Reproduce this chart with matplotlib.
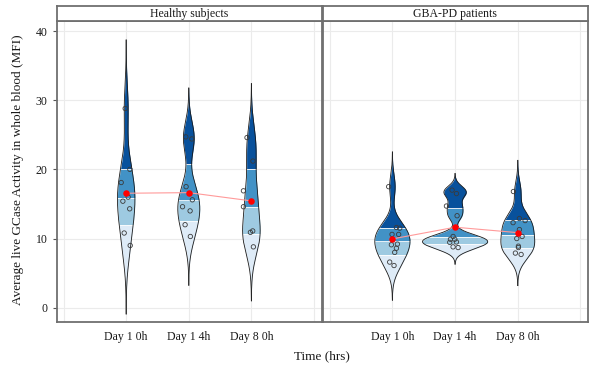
import numpy as np
import matplotlib
matplotlib.use("Agg")
import matplotlib.pyplot as plt

plt.rcParams['font.family'] = ['Liberation Serif', 'DejaVu Serif']

groups = ['Healthy subjects', 'GBA-PD patients']
times = ['Day 1 0h', 'Day 1 4h', 'Day 8 0h']

# GCase activity (MFI) per subject
healthy_d1_0h = [28.8, 20.0, 18.1, 16.0, 15.4, 14.3, 10.8, 9.0]
healthy_d1_4h = [24.7, 24.4, 17.5, 15.6, 14.6, 14.0, 12.0, 10.3]
healthy_d8_0h = [24.6, 21.2, 16.9, 14.6, 11.1, 10.9, 8.8]
gba_d1_0h = [17.5, 11.6, 11.5, 10.6, 10.6, 9.2, 9.1, 8.6, 8.0, 6.6, 6.1]
gba_d1_4h = [17.0, 16.5, 14.7, 13.3, 10.3, 9.9, 9.9, 9.5, 9.45, 8.8, 8.7]
gba_d8_0h = [16.8, 12.9, 12.6, 12.3, 11.3, 10.3, 10.0, 8.9, 8.7, 7.9, 7.7]

# horizontal jitter of the points (category units)
healthy_jit = [[-0.016, 0.059, -0.08, 0.032, -0.053, 0.056, -0.032, 0.064],
               [-0.048, 0.048, -0.043, 0.057, -0.10, 0.021, -0.059, 0.025],
               [-0.07, 0.025, -0.127, -0.127, 0.021, -0.016, 0.032]]
gba_jit = [[-0.059, 0.064, 0.117, -0.006, 0.10, 0.08, -0.016, 0.064, 0.037, -0.043, 0.026],
           [-0.048, 0.022, -0.138, 0.032, -0.032, -0.074, -0.005, 0.022, -0.085, -0.032, 0.048],
           [-0.07, 0.026, 0.117, -0.075, 0.026, 0.069, -0.016, 0.01, 0.01, -0.038, 0.053]]

# kernel bandwidths of the violins
healthy_bw = [3.3, 2.35, 2.6]
gba_bw = [1.67, 0.8, 1.5]

band_colors = ['#deebf7', '#9ecae1', '#4292c6', '#08519c']

panels = [
    ([healthy_d1_0h, healthy_d1_4h, healthy_d8_0h], healthy_jit, healthy_bw),
    ([gba_d1_0h, gba_d1_4h, gba_d8_0h], gba_jit, gba_bw),
]


def kde(vals, bw):
    v = np.asarray(vals, dtype=float)
    y = np.linspace(v.min() - 3 * bw, v.max() + 3 * bw, 600)
    d = np.exp(-0.5 * ((y[:, None] - v[None, :]) / bw) ** 2).sum(1)
    d = d / (len(v) * bw * np.sqrt(2 * np.pi))
    return y, d


dens = [[kde(v, b) for v, b in zip(p[0], p[2])] for p in panels]
dmax = max(d.max() for p in dens for (_, d) in p)
half_max = 0.52

fig = plt.figure(figsize=(5.94, 3.65), dpi=100)
W, H = 594.0, 365.0
panel_x = [(56.7, 321.5), (322.8, 588.0)]
top, bottom = 21.0, 321.7
border = '#6f6f6f'

for pi, (data, jits, bws) in enumerate(panels):
    x0, x1 = panel_x[pi]
    ax = fig.add_axes([x0 / W, 1 - bottom / H, (x1 - x0) / W, (bottom - top) / H])
    ax.set_xlim(-0.11, 4.12)
    ax.set_ylim(-2.02, 41.45)
    for g in range(0, 5):
        ax.axvline(g, color='#ebebeb', lw=0.8, zorder=0)
    for g in range(0, 41, 10):
        ax.axhline(g, color='#ebebeb', lw=0.8, zorder=0)

    means = []
    for i, vals in enumerate(data):
        xc = i + 1
        y, d = dens[pi][i]
        w = d / dmax * half_max
        cdf = np.concatenate([[0], np.cumsum((d[1:] + d[:-1]) / 2 * np.diff(y))])
        cdf /= cdf[-1]
        qs = np.interp([0.25, 0.5, 0.75], cdf, y)
        edges = [y[0]] + list(qs) + [y[-1]]
        for k in range(4):
            lo, hi = edges[k], edges[k + 1]
            m = (y > lo) & (y < hi)
            yy = np.concatenate([[lo], y[m], [hi]])
            ww = np.interp(yy, y, w)
            ax.fill_betweenx(yy, xc - ww, xc + ww, color=band_colors[k], lw=0, zorder=2)
        for q in qs:
            wq = np.interp(q, y, w)
            ax.plot([xc - wq, xc + wq], [q, q], color='white', lw=0.6, zorder=3)
        ax.plot(xc - w, y, color='#1a1a1a', lw=0.6, zorder=4)
        ax.plot(xc + w, y, color='#1a1a1a', lw=0.6, zorder=4)
        ax.scatter(xc + np.asarray(jits[i]), vals, s=10, facecolors='none',
                   edgecolors='#3a3a3a', linewidths=0.6, zorder=5)
        means.append(np.mean(vals))

    xs = np.arange(1, 4)
    ax.plot(xs, means, color='#ff9a9a', lw=0.8, zorder=6)
    ax.scatter(xs, means, s=22, color='#ff0000', zorder=7, linewidths=0)

    ax.set_xticks(xs)
    ax.set_xticklabels(times, fontsize=8.5)
    ax.tick_params(axis='x', length=0, pad=7, colors='#1a1a1a')
    if pi == 0:
        ax.set_yticks([0, 10, 20, 30, 40])
        ax.tick_params(axis='y', length=3, width=0.8, color='#555555',
                       labelsize=8.5, labelcolor='#1a1a1a')
    else:
        ax.set_yticks([0, 10, 20, 30, 40])
        ax.tick_params(axis='y', length=0, labelleft=False)
    for s in ax.spines.values():
        s.set_color(border)
        s.set_linewidth(1.3)

    sax = fig.add_axes([x0 / W, 1 - top / H, (x1 - x0) / W, 15.0 / H])
    sax.set_xticks([])
    sax.set_yticks([])
    for s in sax.spines.values():
        s.set_color(border)
        s.set_linewidth(1.3)
    sax.text(0.5, 0.45, groups[pi], ha='center', va='center', fontsize=8.5,
             color='#1a1a1a', transform=sax.transAxes)

fig.text(18 / W, 1 - 170 / H, 'Average live GCase Activity in whole blood (MFI)',
         rotation=90, ha='center', va='center', fontsize=9.5, color='#1a1a1a')
fig.text(322 / W, 1 - 356 / H, 'Time (hrs)', ha='center', va='center',
         fontsize=9.5, color='#1a1a1a')

fig.savefig('out.png', dpi=100)
